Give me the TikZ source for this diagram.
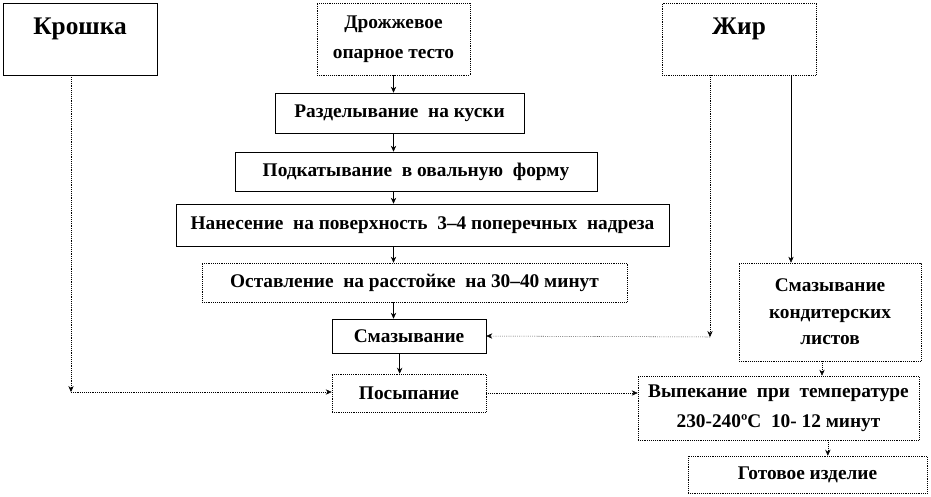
\documentclass[tikz,border=0pt]{standalone}
\usepackage{fontspec}
\setmainfont{Liberation Serif}
\usepackage{tikz}
\usetikzlibrary{arrows.meta}
\tikzstyle{box} = [draw,thin,rectangle,inner sep=0pt,align=center,font=\bfseries\fontsize{14.5}{22.5}\selectfont]
\tikzstyle{dbox} = [box,densely dotted]
\tikzstyle{bigbox} = [box,font=\bfseries\fontsize{19}{22}\selectfont,minimum width=115.5pt,minimum height=54pt,text height=23.5pt,text depth=30.5pt]
\tikzstyle{arrow} = [thin,-{Stealth[length=4.5pt,width=4pt]}]
\tikzstyle{darrow} = [arrow,densely dotted]

\begin{document}
\begin{tikzpicture}[x=0.75pt,y=-0.75pt]
  \useasboundingbox (0,0) rectangle (931,496);
  \node[bigbox] (krosh) at (80,39) {Крошка};
  \node[dbox,minimum width=114.75pt,minimum height=54pt] (drozh) at (393.5,39) {Дрожжевое\\опарное тесто};
  \node[bigbox,densely dotted] (zhir) at (739,39) {Жир};
  \node[box,minimum width=186.75pt,minimum height=30pt] (razd) at (399.5,113) {Разделывание\ \ на куски};
  \node[box,minimum width=271.5pt,minimum height=29.25pt] (podk) at (416,171.5) {Подкатывание\ \ в овальную\ \ форму};
  \node[box,minimum width=369.75pt,minimum height=31.5pt] (nanes) at (422.5,225) {Нанесение\ \ на поверхность\ \ 3–4 поперечных\ \ надреза};
  \node[dbox,minimum width=318.75pt,minimum height=29.25pt] (ostav) at (414.5,282.5) {Оставление\ \ на расстойке\ \ на 30–40 минут};
  \node[box,minimum width=115.5pt,minimum height=25.5pt] (smaz) at (409,336) {Смазывание};
  \node[dbox,minimum width=115.5pt,minimum height=28.5pt] (posyp) at (409,393) {Посыпание};
  \node[dbox,minimum width=136.5pt,minimum height=73.5pt,font=\bfseries\fontsize{14.5}{20}\selectfont] (smazk) at (830,312) {Смазывание\\кондитерских\\листов};
  \node[dbox,minimum width=210.75pt,minimum height=48pt] (vyp) at (778.5,408) {Выпекание\ \ при\ \ температуре\\230-240ºС\ \ 10- 12 минут};
  \node[dbox,minimum width=179.25pt,minimum height=27.75pt] (got) at (807.5,474.5) {Готовое\ изделие};
  \coordinate (k1) at (71,392);
  \coordinate (z1) at (710,337);

  % central column
  \draw[arrow] (drozh.south) -- (drozh.south |- razd.north);
  \draw[arrow] (drozh.south |- razd.south) -- (drozh.south |- podk.north);
  \draw[arrow] (drozh.south |- podk.south) -- (drozh.south |- nanes.north);
  \draw[arrow] (drozh.south |- nanes.south) -- (drozh.south |- ostav.north);
  \draw[arrow] (drozh.south |- ostav.south) -- (drozh.south |- smaz.north);
  \draw[arrow] ([xshift=-7pt]smaz.south) -- ([xshift=-7pt]posyp.north);
  % side inputs
  \draw[darrow] (k1 |- krosh.south) -- (k1);
  \draw[darrow] (k1) -- (k1 -| posyp.west);
  \draw[darrow] (z1 |- zhir.south) -- (z1);
  \draw[darrow] (z1) -- (smaz.east);
  \draw[arrow] ([xshift=39pt]zhir.south) -- ([xshift=39pt]zhir.south |- smazk.north);
  % baking
  \draw[darrow] (posyp.east) -- (posyp.east -| vyp.west);
  \draw[darrow] ([xshift=-6pt]smazk.south) -- ([xshift=-6pt]smazk.south |- vyp.north);
  \draw[darrow] ([xshift=37pt]vyp.south) -- ([xshift=37pt]vyp.south |- got.north);
\end{tikzpicture}
\end{document}
